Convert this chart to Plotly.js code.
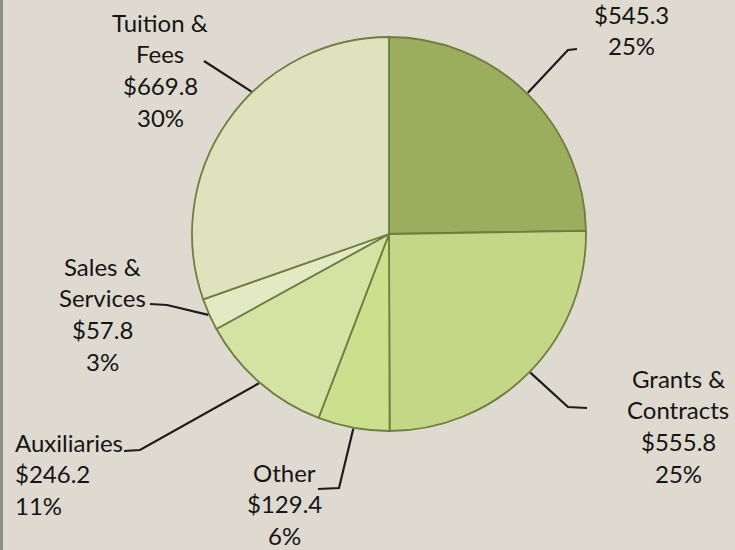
<!DOCTYPE html>
<html>
<head>
<meta charset="utf-8">
<script src="https://cdn.plot.ly/plotly-3.0.1.min.js"></script>
<style>html,body{margin:0;padding:0;background:#dedacf;}#chart{width:735px;height:550px;}</style>
</head>
<body>
<div id="chart"></div>
<script>
// ---- data ----
const categories = ['State Appropriations', 'Grants & Contracts', 'Other', 'Auxiliaries', 'Sales & Services', 'Tuition & Fees'];
const values = [545.3, 555.8, 129.4, 246.2, 57.8, 669.8];
const labelNames = [['State Appropriations'], ['Grants &', 'Contracts'], ['Other'], ['Auxiliaries'], ['Sales &', 'Services'], ['Tuition &', 'Fees']];
const sliceColors = ['#9bae5e', '#c3d787', '#cbe08c', '#d4e2a4', '#e3eac3', '#dfe3bd'];

// ---- layout config (label placement, pixels) ----
const W = 735, H = 550;
const CX = 389, CY = 234, R = 197;
const LINE_GAP = 31.8;
// the first label's name line lies above the visible frame in the reference, so it is not drawn
const labelLayout = [
  {x: 631, base: 22,  anchor: 'center', nudge: 0,    showName: false, elbow: [[568, 50], [577, 49]]},
  {x: 678, base: 386, anchor: 'center', nudge: 0,    showName: true,  elbow: [[568, 407], [587, 408]]},
  {x: 284, base: 480, anchor: 'center', nudge: 0,    showName: true,  elbow: [[339, 488], [318, 489]]},
  {x: 13,  base: 450, anchor: 'left',   nudge: 0,    showName: true,  elbow: [[140, 450], [124, 451]]},
  {x: 102, base: 274, anchor: 'center', nudge: 0,    showName: true,  elbow: [[167, 305], [150, 304]]},
  {x: 160, base: 30,  anchor: 'center', nudge: 10.7, showName: true,  elbow: [[204, 61]]}
];
const FONT = {family: 'Lato, "Open Sans", sans-serif', size: 24, color: '#151515'};

const px = x => x / W;
const py = y => 1 - y / H;

const total = values.reduce((a, b) => a + b, 0);
const annotations = [];
const shapes = [];

// left frame edge
shapes.push({type: 'rect', xref: 'paper', yref: 'paper', x0: 0, x1: px(3), y0: 0, y1: 1,
  fillcolor: '#8e8f80', line: {width: 0}, layer: 'below'});

let cum = 0;
values.forEach((v, i) => {
  const frac = v / total;
  const mid = (cum + frac / 2) * 360;
  cum += frac;
  const cfg = labelLayout[i];
  const lines = (cfg.showName ? labelNames[i] : []).concat(['$' + v.toFixed(1), Math.round(frac * 100) + '%']);
  lines.forEach((t, k) => {
    const baseline = cfg.base + k * LINE_GAP;
    annotations.push({
      xref: 'paper', yref: 'paper', x: px(cfg.x), y: py(baseline - 8),
      xanchor: cfg.anchor, yanchor: 'middle', text: t, showarrow: false,
      font: FONT, align: cfg.anchor
    });
  });
  // leader line: tip on the pie rim at the slice's mid angle
  const a = (mid + cfg.nudge) * Math.PI / 180;
  const tip = [CX + (R + 1) * Math.sin(a), CY - (R + 1) * Math.cos(a)];
  const pts = [tip].concat(cfg.elbow);
  const path = pts.map((p, k) => (k ? 'L' : 'M') + px(p[0]).toFixed(5) + ',' + py(p[1]).toFixed(5)).join(' ');
  shapes.push({type: 'path', xref: 'paper', yref: 'paper', path: path,
    line: {color: '#1c1c1c', width: 2.2}});
});

const trace = {
  type: 'pie',
  labels: categories,
  values: values,
  sort: false,
  direction: 'clockwise',
  rotation: 0,
  textinfo: 'none',
  hoverinfo: 'label+value+percent',
  marker: {colors: sliceColors, line: {color: '#6f7d3e', width: 1.8}},
  domain: {x: [px(CX - R), px(CX + R)], y: [py(CY + R), py(CY - R)]},
  showlegend: false
};

const layout = {
  width: W, height: H,
  margin: {l: 0, r: 0, t: 0, b: 0},
  paper_bgcolor: '#dedacf',
  plot_bgcolor: '#dedacf',
  showlegend: false,
  annotations: annotations,
  shapes: shapes
};

Plotly.newPlot('chart', [trace], layout, {displayModeBar: false, staticPlot: true});
</script>
</body>
</html>
